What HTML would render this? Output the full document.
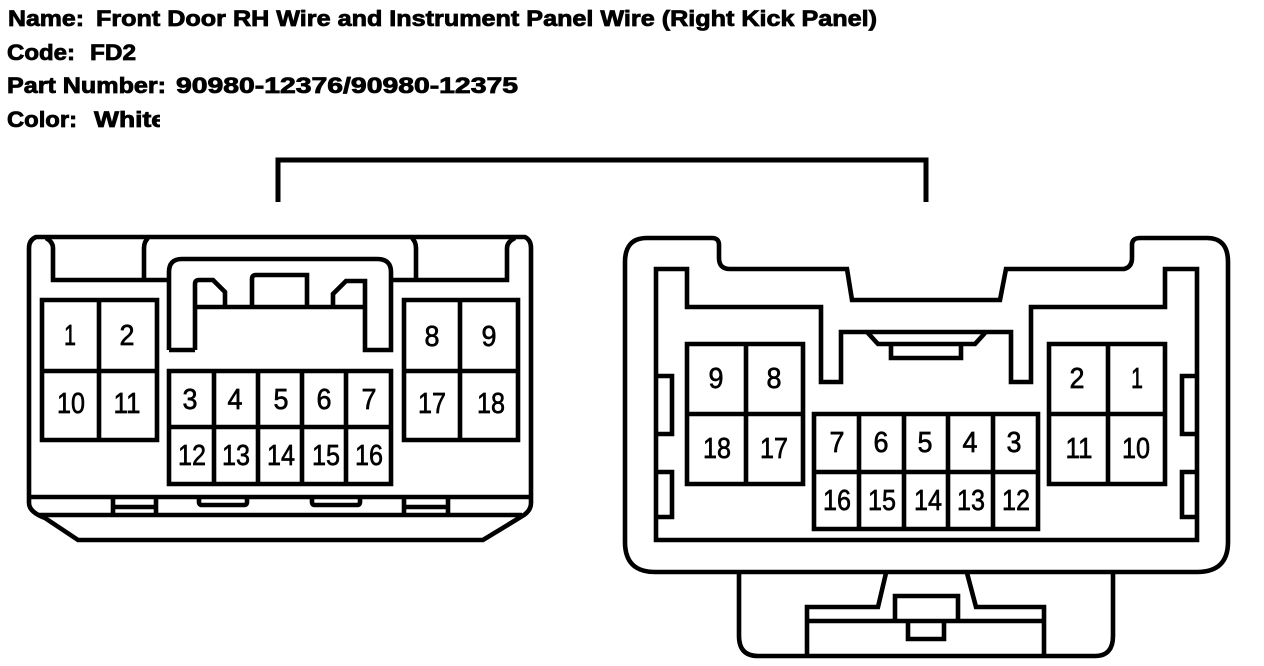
<!DOCTYPE html>
<html>
<head>
<meta charset="utf-8">
<style>
html,body{margin:0;padding:0;background:#fff;width:1264px;height:666px;overflow:hidden}
svg{display:block}
.l{fill:none;stroke:#000;stroke-width:4.6;stroke-linejoin:miter}
.h{font-family:"Liberation Sans",sans-serif;font-weight:700;font-size:22px;fill:#000;stroke:#000;stroke-width:.8}
.n{font-family:"Liberation Sans",sans-serif;font-size:29px;fill:#000;text-anchor:middle;stroke:#000;stroke-width:.65}
</style>
</head>
<body>
<svg width="1264" height="666" viewBox="0 0 1264 666" xmlns="http://www.w3.org/2000/svg">
<defs><clipPath id="c"><rect x="0" y="105" width="160" height="30"/></clipPath></defs>
<g class="h">
<text x="8" y="26" textLength="76" lengthAdjust="spacingAndGlyphs">Name:</text>
<text x="96" y="26" textLength="781" lengthAdjust="spacingAndGlyphs">Front Door RH Wire and Instrument Panel Wire (Right Kick Panel)</text>
<text x="7" y="60" textLength="68" lengthAdjust="spacingAndGlyphs">Code:</text>
<text x="90" y="60" textLength="46" lengthAdjust="spacingAndGlyphs">FD2</text>
<text x="7" y="93" textLength="159" lengthAdjust="spacingAndGlyphs">Part Number:</text>
<text x="176" y="93" textLength="342" lengthAdjust="spacingAndGlyphs">90980-12376/90980-12375</text>
<text x="7" y="127" textLength="70" lengthAdjust="spacingAndGlyphs">Color:</text>
<g clip-path="url(#c)"><text x="94" y="127" textLength="72" lengthAdjust="spacingAndGlyphs">White</text></g>
</g>

<path class="l" style="stroke-width:5" d="M278 202V160H926V202"/>

<!-- left connector -->
<g class="l">
<path d="M36 237H525Q531 240 531 248V503Q531 510 524 515L483 540H78L45 518Q29 512 29 503V248Q29 240 36 237Z"/>
<path d="M29 497H531M38 515H522"/>
<path d="M46 238Q53 242 53 248V280H167M148 238Q144 242 144 248V280"/>
<path d="M412 238Q416 242 416 248V280M391 280H507V248Q507 242 515 238"/>
<path d="M169 350V272Q169 259 182 259H377Q391 259 391 272V350H365V281H346L333 294V307M195 350H169M195 350V284Q195 280 199 280H213L225 292V307M195 307H365M252 307V279Q252 275 256 275H307V307"/>
<path d="M42 300H157V440H42ZM99 300V440M42 371H157"/>
<path d="M404 300H518V440H404ZM460 300V440M404 371H518"/>
<path d="M169 371H391V484H169ZM169 427H391M214 371V484M258 371V484M302 371V484M346 371V484"/>
<path d="M113 497V515M156 497V515M113 507H156M404 497V515M448 497V515M404 507H448"/>
<path d="M199 497V502Q199 505 202 505H244Q247 505 247 502V497M312 497V502Q312 505 315 505H357Q360 505 360 502V497"/>
</g>

<!-- right connector -->
<g class="l">
<path d="M647 238H712Q719 238 719 245V258Q719 269 730 269H847L852 300H1000L1006 269H1124Q1132 267 1132 258V245Q1132 238 1140 238H1207Q1228 238 1228 262V542Q1228 572 1197 572H655Q625 572 625 542V262Q625 238 647 238Z"/>
<path d="M656 269H687V307H821V382H841V332H1011V382H1031V307H1165V269H1197V540H656Z"/>
<path d="M867 332L878 344H975L985 333M891 344V358H961V344"/>
<path d="M656 376H672V434H656M656 472H672V517H656M1197 376H1182V434H1197M1197 472H1182V517H1197"/>
<path d="M687 344H803V484H687ZM746 344V484M687 414H803"/>
<path d="M1049 344H1165V484H1049ZM1108 344V484M1049 414H1165"/>
<path d="M814 414H1038V529H814ZM814 472H1038M859 414V529M904 414V529M948 414V529M993 414V529"/>
<path d="M739 573V636Q739 656 758 656H1095Q1113 656 1113 636V573"/>
<path d="M886 573L878 607H807V656M807 621H1044M967 573L976 607H1044V656"/>
<path d="M895 621V596H958V621M908 621V639H944V621"/>
</g>

<g class="n">
<text x="70" y="345" textLength="12" lengthAdjust="spacingAndGlyphs">1</text>
<text x="127" y="345" textLength="15" lengthAdjust="spacingAndGlyphs">2</text>
<text x="71" y="413" textLength="28" lengthAdjust="spacingAndGlyphs">10</text>
<text x="127" y="413" textLength="27" lengthAdjust="spacingAndGlyphs">11</text>
<text x="190" y="409" textLength="15" lengthAdjust="spacingAndGlyphs">3</text>
<text x="235" y="409" textLength="15" lengthAdjust="spacingAndGlyphs">4</text>
<text x="281" y="409" textLength="15" lengthAdjust="spacingAndGlyphs">5</text>
<text x="324" y="409" textLength="15" lengthAdjust="spacingAndGlyphs">6</text>
<text x="369" y="409" textLength="15" lengthAdjust="spacingAndGlyphs">7</text>
<text x="192" y="465" textLength="28" lengthAdjust="spacingAndGlyphs">12</text>
<text x="236" y="465" textLength="28" lengthAdjust="spacingAndGlyphs">13</text>
<text x="281" y="465" textLength="28" lengthAdjust="spacingAndGlyphs">14</text>
<text x="326" y="465" textLength="28" lengthAdjust="spacingAndGlyphs">15</text>
<text x="369" y="465" textLength="28" lengthAdjust="spacingAndGlyphs">16</text>
<text x="432" y="346" textLength="15" lengthAdjust="spacingAndGlyphs">8</text>
<text x="489" y="346" textLength="15" lengthAdjust="spacingAndGlyphs">9</text>
<text x="432" y="413" textLength="28" lengthAdjust="spacingAndGlyphs">17</text>
<text x="491" y="413" textLength="28" lengthAdjust="spacingAndGlyphs">18</text>

<text x="716" y="388" textLength="15" lengthAdjust="spacingAndGlyphs">9</text>
<text x="774" y="388" textLength="15" lengthAdjust="spacingAndGlyphs">8</text>
<text x="717" y="458" textLength="28" lengthAdjust="spacingAndGlyphs">18</text>
<text x="774" y="458" textLength="28" lengthAdjust="spacingAndGlyphs">17</text>
<text x="837" y="452" textLength="15" lengthAdjust="spacingAndGlyphs">7</text>
<text x="881" y="452" textLength="15" lengthAdjust="spacingAndGlyphs">6</text>
<text x="925" y="452" textLength="15" lengthAdjust="spacingAndGlyphs">5</text>
<text x="970" y="452" textLength="15" lengthAdjust="spacingAndGlyphs">4</text>
<text x="1014" y="452" textLength="15" lengthAdjust="spacingAndGlyphs">3</text>
<text x="837" y="510" textLength="28" lengthAdjust="spacingAndGlyphs">16</text>
<text x="882" y="510" textLength="28" lengthAdjust="spacingAndGlyphs">15</text>
<text x="928" y="510" textLength="28" lengthAdjust="spacingAndGlyphs">14</text>
<text x="971" y="510" textLength="28" lengthAdjust="spacingAndGlyphs">13</text>
<text x="1016" y="510" textLength="28" lengthAdjust="spacingAndGlyphs">12</text>
<text x="1077" y="388" textLength="15" lengthAdjust="spacingAndGlyphs">2</text>
<text x="1137" y="388" textLength="12" lengthAdjust="spacingAndGlyphs">1</text>
<text x="1079" y="458" textLength="27" lengthAdjust="spacingAndGlyphs">11</text>
<text x="1136" y="458" textLength="28" lengthAdjust="spacingAndGlyphs">10</text>
</g>
</svg>
</body>
</html>
